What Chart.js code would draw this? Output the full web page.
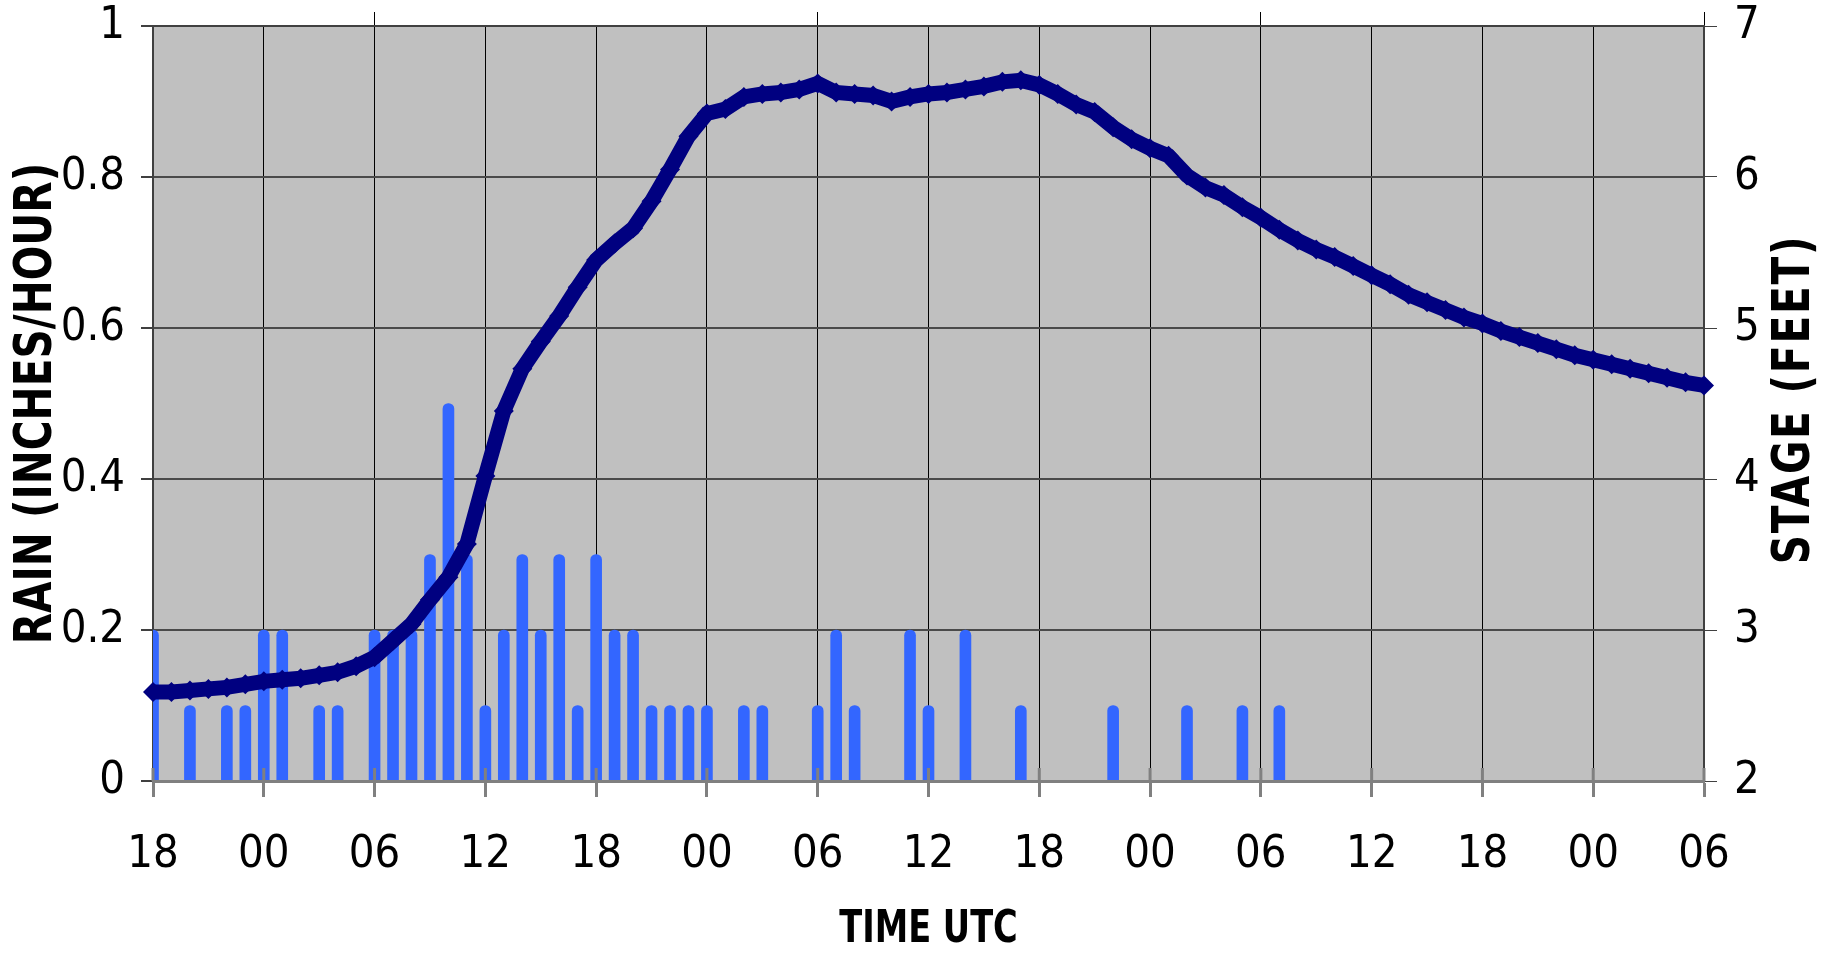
<!DOCTYPE html>
<html>
<head>
<meta charset="utf-8">
<script src="https://cdn.jsdelivr.net/npm/chart.js@4.4.1/dist/chart.umd.min.js"></script>
<style>
  body { margin: 0; background: #fff; }
  canvas { display: block; }
</style>
</head>
<body>
<canvas id="rainStage" width="1842" height="956"></canvas>
<script>
// x axis runs in hours from 18 UTC on the first day
let timeLabels = ['18','00','06','12','18','00','06','12','18','00','06','12','18','00','06'];

// hourly rain totals (inches/hour)
let rainHours  = [0,2,4,5,6,7,9,10,12,13,14,15,16,17,18,19,20,21,22,23,24,25,26,27,28,29,30,32,33,36,37,38,41,42,44,47,52,56,59,61];
let rainValues = [0.2,0.1,0.1,0.1,0.2,0.2,0.1,0.1,0.2,0.2,0.2,0.3,0.5,0.3,0.1,0.2,0.3,0.2,0.3,0.1,0.3,0.2,0.2,0.1,0.1,0.1,0.1,0.1,0.1,0.1,0.2,0.1,0.2,0.1,0.2,0.1,0.1,0.1,0.1,0.1];

// river stage (feet), one reading per hour
let stageValues = [
  2.59,2.59,2.60,2.61,2.62,2.64,2.66,2.67,2.68,2.70,
  2.72,2.76,2.82,2.93,3.04,3.20,3.35,3.57,4.02,4.45,
  4.73,4.91,5.08,5.27,5.45,5.56,5.66,5.84,6.05,6.27,
  6.42,6.45,6.53,6.55,6.56,6.58,6.62,6.56,6.55,6.54,
  6.50,6.53,6.55,6.56,6.58,6.60,6.63,6.64,6.61,6.55,
  6.48,6.43,6.33,6.25,6.19,6.14,6.01,5.93,5.88,5.80,
  5.73,5.65,5.58,5.52,5.47,5.41,5.35,5.29,5.22,5.17,
  5.12,5.07,5.03,4.98,4.94,4.90,4.86,4.82,4.79,4.76,
  4.73,4.70,4.67,4.64,4.62
];

const narrow = "'Liberation Sans Narrow', 'Arial Narrow', 'DejaVu Sans Condensed', sans-serif";

// grey plot area like the old spreadsheet chart
const plotBack = {
  id: 'plotBack',
  beforeDraw(chart) {
    const a = chart.chartArea, ctx = chart.ctx;
    ctx.save();
    ctx.fillStyle = '#c0c0c0';
    ctx.fillRect(a.left, a.top, a.right - a.left, a.bottom - a.top);
    ctx.restore();
  }
};

// x tick marks also reach a little into the plot
const crossTicks = {
  id: 'crossTicks',
  afterDatasetsDraw(chart) {
    const x = chart.scales.x, ctx = chart.ctx;
    ctx.save();
    ctx.strokeStyle = '#808080';
    ctx.lineWidth = 3;
    x.ticks.forEach(t => {
      const px = x.getPixelForValue(t.value);
      ctx.beginPath();
      ctx.moveTo(px, x.top - 13);
      ctx.lineTo(px, x.top);
      ctx.stroke();
    });
    ctx.restore();
  }
};

// axis titles: tall narrow bold letters, both y titles read bottom to top
const axisTitles = {
  id: 'axisTitles',
  afterDraw(chart) {
    const ctx = chart.ctx, a = chart.chartArea, sc = chart.scales;
    const midY = (a.top + a.bottom) / 2;
    const put = (text, x, y, rot, size, squeeze, spacing) => {
      ctx.save();
      ctx.translate(x, y);
      ctx.rotate(rot);
      ctx.scale(squeeze, 1);
      ctx.font = 'bold ' + size + 'px ' + narrow;
      ctx.letterSpacing = spacing + 'px';
      ctx.fillStyle = '#000';
      ctx.textAlign = 'center';
      ctx.textBaseline = 'middle';
      ctx.fillText(text, 0, 0);
      ctx.restore();
    };
    put(sc.y.options.title.text, sc.y.left + 37, midY, -Math.PI / 2, 52, 0.87, 0);
    put(sc.y2.options.title.text, sc.y2.right - 47, midY - 4, -Math.PI / 2, 52, 0.87, 2);
    put(sc.x.options.title.text, (a.left + a.right) / 2, sc.x.bottom - 25, 0, 44, 0.85, 0);
  }
};

const noPad = s => { s.paddingTop = 0; s.paddingBottom = 0; };

let ctx = document.getElementById('rainStage').getContext('2d');
let rainChart = new Chart(ctx, {
  type: 'bar',
  data: {
    datasets: [{
      type: 'line',
      label: 'Stage',
      data: stageValues.map((v, i) => ({ x: i, y: v })),
      yAxisID: 'y2',
      borderColor: '#000080',
      borderWidth: 15,
      backgroundColor: '#000080',
      pointStyle: 'rectRot',
      pointRadius: 10,
      pointBorderWidth: 0,
      pointBackgroundColor: '#000080',
      tension: 0,
      clip: false,
      order: 0
    }, {
      type: 'bar',
      label: 'Rain',
      data: rainHours.map((h, i) => ({ x: h, y: rainValues[i] })),
      yAxisID: 'y',
      backgroundColor: '#3366ff',
      barThickness: 11,
      borderRadius: { topLeft: 5.5, topRight: 5.5, bottomLeft: 0, bottomRight: 0 },
      borderSkipped: 'start',
      order: 1
    }]
  },
  options: {
    responsive: false,
    animation: false,
    devicePixelRatio: 1,
    layout: { padding: 0 },
    plugins: {
      legend: { display: false },
      tooltip: { enabled: false }
    },
    scales: {
      x: {
        type: 'linear',
        position: 'bottom',
        min: 0,
        max: 84,
        offset: false,
        afterFit: s => { s.height = 175; },
        grid: { offset: false, color: '#000', lineWidth: 1, tickColor: '#808080', tickWidth: 3, tickLength: 16 },
        border: { color: '#808080', width: 3, z: 1 },
        ticks: {
          stepSize: 6,
          autoSkip: false,
          maxRotation: 0,
          padding: 31,
          color: '#000',
          font: { family: narrow, size: 45 },
          callback: v => timeLabels[Math.round(v / 6)]
        },
        title: { display: false, text: 'TIME UTC' }
      },
      x2: {
        // short marks above the plot once a day at 18 UTC
        type: 'linear',
        position: 'top',
        min: 0,
        max: 84,
        offset: false,
        afterFit: s => { s.height = 26; },
        afterBuildTicks: s => { s.ticks = s.ticks.filter(t => t.value % 24 === 0); },
        grid: { drawOnChartArea: false, color: '#000', lineWidth: 1, tickLength: 14 },
        border: { color: '#404040', width: 2 },
        ticks: { display: false, stepSize: 6, autoSkip: false }
      },
      y: {
        position: 'left',
        min: 0,
        max: 1,
        afterFit: s => { s.width = 153; noPad(s); },
        grid: { color: '#4a4a4a', lineWidth: 2, tickColor: '#404040', tickLength: 12 },
        border: { color: '#404040', width: 2 },
        ticks: {
          stepSize: 0.2,
          padding: 16,
          color: '#000',
          font: { family: narrow, size: 45 },
          callback: v => String(+v.toFixed(1))
        },
        title: { display: false, text: 'RAIN (INCHES/HOUR)' }
      },
      y2: {
        position: 'right',
        min: 2,
        max: 7,
        afterFit: s => { s.width = 138; noPad(s); },
        grid: { drawOnChartArea: false, tickColor: '#404040', tickLength: 13 },
        border: { color: '#404040', width: 2 },
        ticks: {
          stepSize: 1,
          padding: 17,
          color: '#000',
          font: { family: narrow, size: 45 }
        },
        title: { display: false, text: 'STAGE (FEET)' }
      }
    }
  },
  plugins: [plotBack, crossTicks, axisTitles]
});
</script>
</body>
</html>
